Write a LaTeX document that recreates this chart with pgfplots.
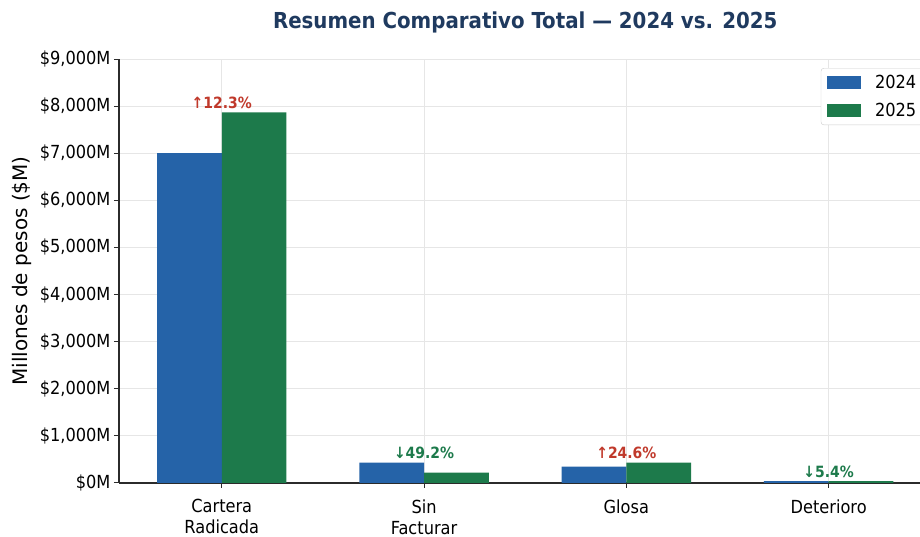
\documentclass[border=0pt]{standalone}
\usepackage{fontspec}
\setmainfont{DejaVu Sans Condensed}
\newfontfamily\regfont{DejaVu Sans}
\usepackage{pgfplots}
\pgfplotsset{compat=1.18}
\definecolor{c24}{HTML}{2563A8}
\definecolor{c25}{HTML}{1D7A4B}
\definecolor{ctitle}{HTML}{1F3A5F}
\definecolor{cup}{HTML}{C0392B}
\definecolor{cdown}{HTML}{1D7A4B}
\definecolor{gridc}{HTML}{E6E6E6}
\definecolor{spine}{HTML}{2B2B2B}
\begin{document}
\begin{tikzpicture}
\begin{axis}[
  scale only axis,
  width=812.4pt, height=424pt,
  xmin=-0.508, xmax=3.508,
  ymin=0, ymax=9000,
  axis lines=left,
  axis line style={-, draw=spine, line width=1.1pt},
  ybar=0pt, bar width=0.32,
  xtick={0,1,2,3},
  xticklabels={{Cartera\\Radicada},{Sin\\Facturar},{Glosa},{Deterioro}},
  xticklabel style={align=center, font=\fontsize{18}{21}\selectfont, text=black, yshift=-8pt},
  ytick={0,1000,2000,3000,4000,5000,6000,7000,8000,9000},
  yticklabels={{\$0M},{\$1,000M},{\$2,000M},{\$3,000M},{\$4,000M},{\$5,000M},{\$6,000M},{\$7,000M},{\$8,000M},{\$9,000M}},
  yticklabel style={font=\fontsize{18}{21}\selectfont, text=black},
  tick align=outside,
  major tick length=5pt,
  tick style={draw=spine, line width=1pt},
  grid=major,
  major grid style={draw=gridc, line width=0.8pt},
  ylabel={\regfont Millones de pesos (\$M)},
  ylabel style={at={(axis description cs:-0.1194,0.5)}, anchor=center, font=\fontsize{20}{22}\selectfont},
  title={Resumen Comparativo Total — 2024 vs. 2025},
  title style={at={(axis description cs:0.5,1)}, anchor=base, yshift=25pt, font=\bfseries\fontsize{22}{24}\selectfont, text=ctitle},
  legend style={at={(rel axis cs:1,1)}, anchor=north east, xshift=-7pt, yshift=-9pt, draw=gray!40, rounded corners=3pt, font=\fontsize{18}{21}\selectfont, inner xsep=6pt, inner ysep=5pt, row sep=9pt, /tikz/every odd column/.append style={column sep=12pt}},
  legend cell align=left,
]
\addplot[fill=c24, draw=none, legend image code/.code={\fill[c24, sharp corners] (0pt,-6.5pt) rectangle (34pt,6.5pt);}] coordinates {(0,7000) (1,432) (2,345) (3,40)};
\addlegendentry{2024}
\addplot[fill=c25, draw=none, legend image code/.code={\fill[c25, sharp corners] (0pt,-6.5pt) rectangle (34pt,6.5pt);}] coordinates {(0,7865) (1,219) (2,430) (3,37.8)};
\addlegendentry{2025}
\node[anchor=base, text=cup, font=\bfseries\fontsize{15.5}{18}\selectfont, yshift=4pt] at (axis cs:0,7865) {↑12.3\%};
\node[anchor=base, text=cdown, font=\bfseries\fontsize{15.5}{18}\selectfont, yshift=4pt] at (axis cs:1,432) {↓49.2\%};
\node[anchor=base, text=cup, font=\bfseries\fontsize{15.5}{18}\selectfont, yshift=4pt] at (axis cs:2,430) {↑24.6\%};
\node[anchor=base, text=cdown, font=\bfseries\fontsize{15.5}{18}\selectfont, yshift=4pt] at (axis cs:3,40) {↓5.4\%};
\coordinate (O) at (rel axis cs:0,0);
\end{axis}
\pgfresetboundingbox
\path ([xshift=-119pt,yshift=-54pt]O) rectangle ([xshift=801pt,yshift=483pt]O);
\end{tikzpicture}
\end{document}
